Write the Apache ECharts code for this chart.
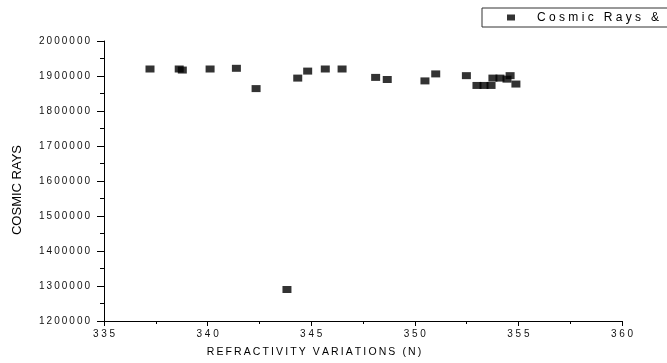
<!DOCTYPE html>
<html>
<head>
<meta charset="utf-8">
<script src="https://cdn.jsdelivr.net/npm/echarts@6/dist/echarts.min.js"></script>
<style>
html,body{margin:0;padding:0;background:#fff;}
#chart{width:667px;height:363px;}
</style>
</head>
<body>
<div id="chart"></div>
<script>
// Data
var refractivity = [337.22, 338.63, 338.78, 340.12, 341.39, 342.34, 343.83, 344.35, 344.83, 345.68, 346.49, 348.11, 348.67, 350.49, 351.01, 352.49, 353.0, 353.34, 353.68, 353.77, 354.11, 354.45, 354.6, 354.88];
var cosmicRays = [1920000, 1920000, 1917000, 1920000, 1922000, 1864000, 1290000, 1894000, 1914000, 1920000, 1920000, 1896000, 1890000, 1886000, 1906000, 1901000, 1873000, 1873000, 1873000, 1894000, 1894000, 1891000, 1901000, 1877000];
var seriesName = 'Cosmic Rays &';
var xTitle = 'REFRACTIVITY VARIATIONS (N)';
var yTitle = 'COSMIC RAYS';

function spaced(s, sep) {
  return String(s).split('').join(sep);
}

var points = refractivity.map(function (x, i) { return [x, cosmicRays[i]]; });

var FONT = 'Liberation Sans, Arial, sans-serif';
var chart = echarts.init(document.getElementById('chart'), null, {renderer: 'canvas'});
chart.setOption({
  animation: false,
  backgroundColor: '#ffffff',
  grid: {left: 104, right: 45, top: 41, bottom: 42, containLabel: false},
  legend: {
    show: true,
    left: 482,
    top: 8,
    orient: 'horizontal',
    padding: [2, 200, 2, 25],
    borderColor: '#333',
    borderWidth: 1,
    icon: 'rect',
    itemWidth: 8,
    itemHeight: 6,
    data: [seriesName],
    formatter: function (n) { return spaced(n, ' '); },
    textStyle: {fontFamily: FONT, fontSize: 12, color: '#000', lineHeight: 15, padding: [0, 0, 0, 17]}
  },
  xAxis: {
    type: 'value',
    min: 335,
    max: 360,
    interval: 5,
    name: spaced(xTitle, '\u2009'),
    nameLocation: 'middle',
    nameGap: 26,
    nameTextStyle: {fontFamily: FONT, fontSize: 10.5, color: '#000', padding: [0, 98, 0, 0]},
    axisLine: {show: true, onZero: false, lineStyle: {color: '#000', width: 1}},
    axisTick: {show: true, inside: false, length: 5, lineStyle: {color: '#000'}},
    minorTick: {show: true, splitNumber: 2, length: 3, lineStyle: {color: '#000'}},
    splitLine: {show: false},
    axisLabel: {
      fontFamily: FONT, fontSize: 10, color: '#111', margin: 8,
      formatter: function (v) { return spaced(v, ' '); }
    }
  },
  yAxis: {
    type: 'value',
    min: 1200000,
    max: 2000000,
    interval: 100000,
    name: yTitle,
    nameLocation: 'middle',
    nameGap: 80,
    nameRotate: 90,
    nameTextStyle: {fontFamily: FONT, fontSize: 13, color: '#000', padding: [0, 18, 0, 0]},
    axisLine: {show: true, onZero: false, lineStyle: {color: '#000', width: 1}},
    axisTick: {show: true, inside: false, length: 7, lineStyle: {color: '#000'}},
    minorTick: {show: true, splitNumber: 2, length: 4, lineStyle: {color: '#000'}},
    splitLine: {show: false},
    axisLabel: {
      fontFamily: FONT, fontSize: 10, color: '#111', margin: 14,
      formatter: function (v) { return spaced(v, '\u2009'); }
    }
  },
  series: [{
    name: seriesName,
    type: 'scatter',
    symbol: 'rect',
    symbolSize: [9, 7],
    itemStyle: {color: '#000'},
    data: points
  }]
});
</script>
</body>
</html>
